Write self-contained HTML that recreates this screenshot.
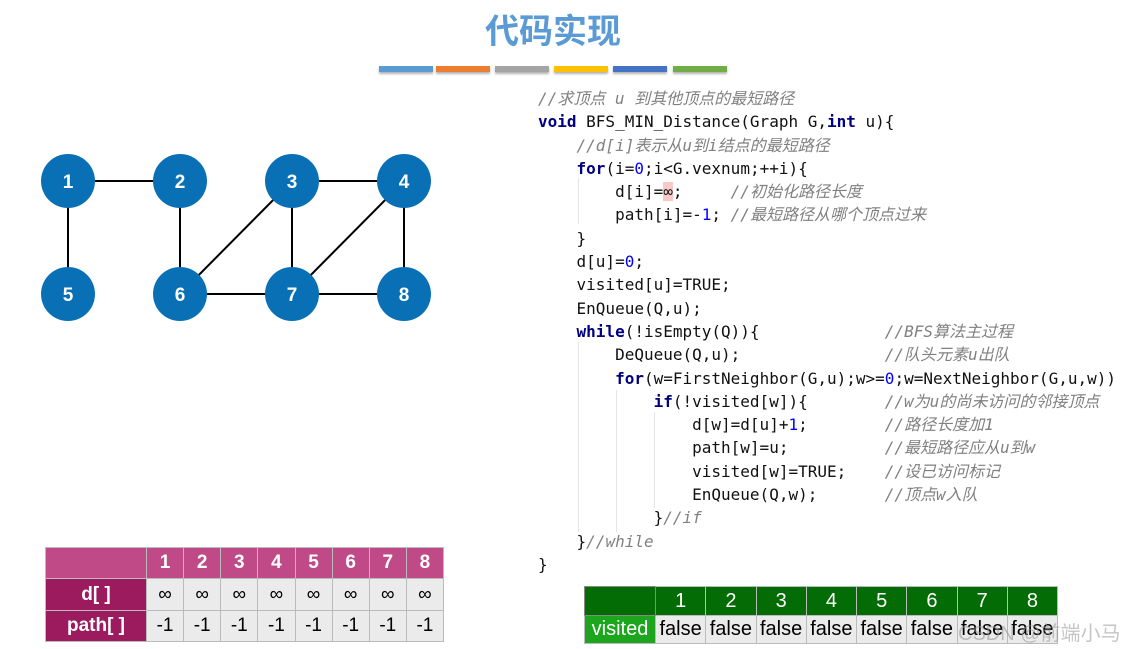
<!DOCTYPE html>
<html><head><meta charset="utf-8"><style>
body{margin:0;width:1126px;height:649px;background:#fff;position:relative;overflow:hidden;font-family:"Liberation Sans","Noto Sans CJK SC",sans-serif}
.t{position:absolute;left:0;width:1106px;text-align:center;top:4px;font-size:34px;font-weight:bold;color:#5b9bd5;font-family:"Noto Sans CJK SC",sans-serif}
.bar{position:absolute;top:66px;height:6px;width:54px;box-shadow:0 2px 2px rgba(0,0,0,.3)}
pre{position:absolute;left:538px;top:87px;margin:0;font:16px/23.3px "DejaVu Sans Mono","Noto Sans CJK SC",monospace;color:#111}
.k{color:#000080;font-weight:bold}.n{color:#0000ff}.c{color:#808080;font-style:italic}
.c{font-family:"DejaVu Sans Mono","Noto Sans CJK SC",monospace}
.g{position:absolute;width:1px;background:#e4e4e4}
table{position:absolute;border-collapse:collapse;text-align:center}
td{border:1px solid #bbb;padding:0}
</style></head><body>
<div class="t">代码实现</div>
<div class="bar" style="left:379px;background:#5b9bd5"></div>
<div class="bar" style="left:436px;background:#ed7d31"></div>
<div class="bar" style="left:495px;background:#a5a5a5"></div>
<div class="bar" style="left:554px;background:#ffc000"></div>
<div class="bar" style="left:613px;background:#4472c4"></div>
<div class="bar" style="left:673px;background:#70ad47"></div>
<svg style="position:absolute;left:0;top:0" width="460" height="340">
<g stroke="#000" stroke-width="2">
<line x1="68" y1="181" x2="180" y2="181"/><line x1="68" y1="181" x2="68" y2="294"/>
<line x1="180" y1="181" x2="180" y2="294"/><line x1="292" y1="181" x2="404" y2="181"/>
<line x1="180" y1="294" x2="292" y2="181"/><line x1="292" y1="181" x2="292" y2="294"/>
<line x1="180" y1="294" x2="404" y2="294"/><line x1="292" y1="294" x2="404" y2="181"/>
<line x1="404" y1="181" x2="404" y2="294"/></g>
<g fill="#0a70b6"><circle cx="68" cy="181" r="27"/><circle cx="180" cy="181" r="27"/><circle cx="292" cy="181" r="27"/><circle cx="404" cy="181" r="27"/><circle cx="68" cy="294" r="27"/><circle cx="180" cy="294" r="27"/><circle cx="292" cy="294" r="27"/><circle cx="404" cy="294" r="27"/></g>
<g fill="#fff" font-family="Liberation Sans" font-size="19" font-weight="bold" text-anchor="middle"><text x="68" y="188">1</text><text x="180" y="188">2</text><text x="292" y="188">3</text><text x="404" y="188">4</text><text x="68" y="301">5</text><text x="180" y="301">6</text><text x="292" y="301">7</text><text x="404" y="301">8</text></g>
</svg>
<div class="g" style="left:578px;top:178px;height:46px"></div>
<div class="g" style="left:578px;top:342px;height:190px"></div>
<div class="g" style="left:616px;top:390px;height:142px"></div>
<div class="g" style="left:654px;top:412px;height:96px"></div>
<pre><span class="c">//求顶点 u 到其他顶点的最短路径</span>
<span class="k">void</span> BFS_MIN_Distance(Graph G,<span class="k">int</span> u){
    <span class="c">//d[i]表示从u到i结点的最短路径</span>
    <span class="k">for</span>(i=<span class="n">0</span>;i&lt;G.vexnum;++i){
        d[i]=<span style="background:#f9c8c8">∞</span>;     <span class="c">//初始化路径长度</span>
        path[i]=-<span class="n">1</span>; <span class="c">//最短路径从哪个顶点过来</span>
    }
    d[u]=<span class="n">0</span>;
    visited[u]=TRUE;
    EnQueue(Q,u);
    <span class="k">while</span>(!isEmpty(Q)){             <span class="c">//BFS算法主过程</span>
        DeQueue(Q,u);               <span class="c">//队头元素u出队</span>
        <span class="k">for</span>(w=FirstNeighbor(G,u);w&gt;=<span class="n">0</span>;w=NextNeighbor(G,u,w))
            <span class="k">if</span>(!visited[w]){        <span class="c">//w为u的尚未访问的邻接顶点</span>
                d[w]=d[u]+<span class="n">1</span>;        <span class="c">//路径长度加1</span>
                path[w]=u;          <span class="c">//最短路径应从u到w</span>
                visited[w]=TRUE;    <span class="c">//设已访问标记</span>
                EnQueue(Q,w);       <span class="c">//顶点w入队</span>
            }<span class="c">//if</span>
    }<span class="c">//while</span>
}</pre>
<table style="left:45px;top:547px;width:399px;font-size:19px">
<tr style="height:31px;background:#c04a87;color:#fff;font-weight:bold"><td style="width:100px"></td><td>1</td><td>2</td><td>3</td><td>4</td><td>5</td><td>6</td><td>7</td><td>8</td></tr>
<tr style="height:32px;background:#ebebeb"><td style="background:#9b1b5e;color:#fff;font-weight:bold">d[ ]</td><td>∞</td><td>∞</td><td>∞</td><td>∞</td><td>∞</td><td>∞</td><td>∞</td><td>∞</td></tr>
<tr style="height:31px;background:#ebebeb"><td style="background:#9b1b5e;color:#fff;font-weight:bold">path[ ]</td><td>-1</td><td>-1</td><td>-1</td><td>-1</td><td>-1</td><td>-1</td><td>-1</td><td>-1</td></tr>
</table>
<table style="left:584px;top:586px;width:474px;font-size:20px">
<tr style="height:29px;background:#046c04;color:#fff"><td style="width:70px;border-color:#888"></td><td>1</td><td>2</td><td>3</td><td>4</td><td>5</td><td>6</td><td>7</td><td>8</td></tr>
<tr style="height:28px;background:#ebebeb"><td style="background:#1da51d;color:#fff">visited</td><td>false</td><td>false</td><td>false</td><td>false</td><td>false</td><td>false</td><td>false</td><td>false</td></tr>
</table>
<div style="position:absolute;left:958px;top:617px;font-size:20px;color:rgba(150,150,150,.55)">CSDN @前端小马</div>
</body></html>
